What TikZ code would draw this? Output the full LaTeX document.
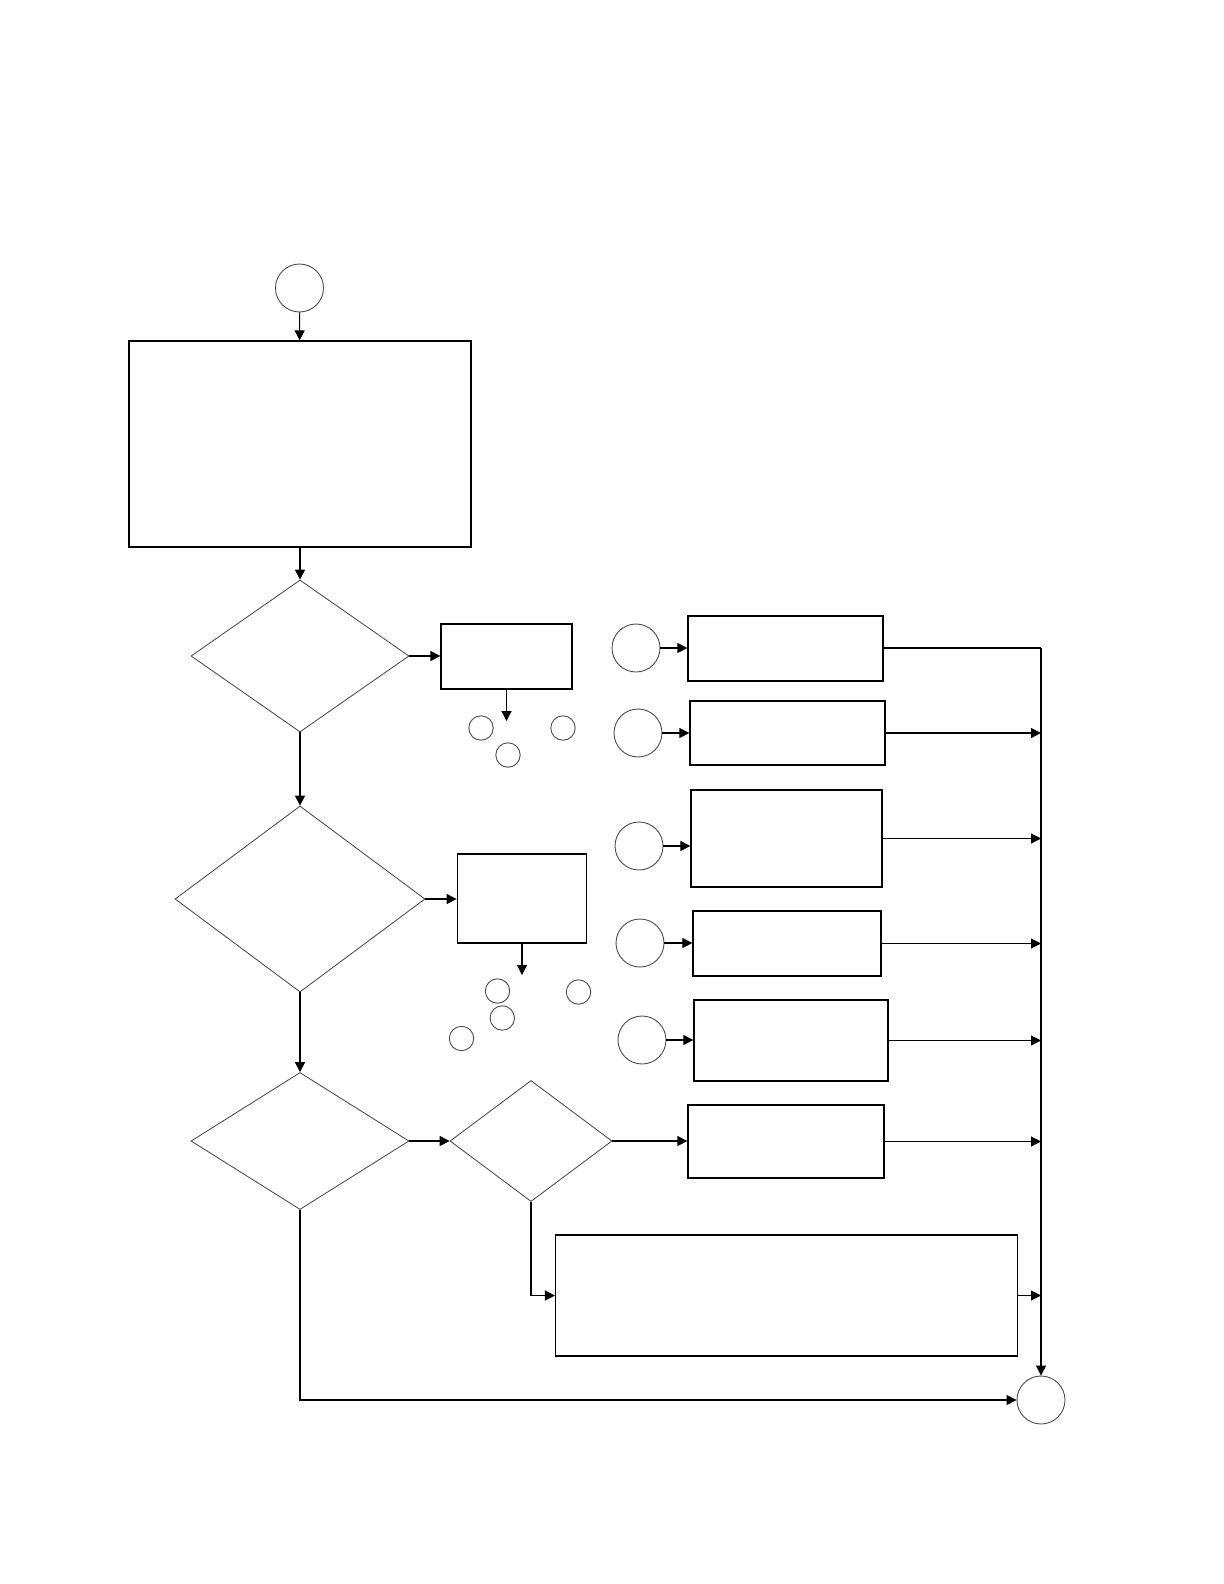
\documentclass[tikz,border=0pt]{standalone}
\usetikzlibrary{shapes.geometric,arrows.meta}
\begin{document}
\begin{tikzpicture}[x=0.5pt,y=-0.5pt,
  box/.style={draw=black,line width=0.65pt,rectangle,inner sep=0pt},
  dia/.style={draw=black!75,line width=0.4pt,diamond,inner sep=0pt},
  circ/.style={draw=black!70,line width=0.45pt,circle,inner sep=0pt,minimum size=24pt},
  smallcirc/.style={draw=black!70,line width=0.45pt,circle,inner sep=0pt,minimum size=12.2pt},
  conn/.style={draw=black,line width=0.55pt},
  arr/.style={conn,-{Triangle[length=5pt,width=5pt]}}]
\useasboundingbox (0,0) rectangle (1224,1584);
% left column
\node[circ] (start) at (299.5,288) {};
\node[box,minimum width=171pt,minimum height=103pt] (main) at (300,444) {};
\node[dia,minimum width=109pt,minimum height=76pt] (d1) at (300,656) {};
\node[dia,minimum width=125pt,minimum height=93pt] (d2) at (300,899) {};
\node[dia,minimum width=109pt,minimum height=68.5pt] (d3) at (300,1141) {};
\node[dia,minimum width=81pt,minimum height=60.5pt] (d4) at (531,1141) {};
% middle boxes
\node[box,minimum width=65.5pt,minimum height=32.5pt] (boxa) at (506.5,656.5) {};
\node[box,minimum width=64.75pt,minimum height=44.5pt] (boxb) at (522,898.5) {};
\coordinate (atip) at (506.5,721);
\coordinate (btip) at (522,975);
% small circles
\node[smallcirc] (a1) at (481,728) {};
\node[smallcirc] (a2) at (563,728) {};
\node[smallcirc] (a3) at (508,755) {};
\node[smallcirc] (b1) at (497.5,991) {};
\node[smallcirc] (b2) at (578.5,992) {};
\node[smallcirc] (b3) at (502.3,1018) {};
\node[smallcirc] (b4) at (461.5,1038.5) {};
% right column circles
\node[circ] (c1) at (636,648) {};
\node[circ] (c2) at (638,733) {};
\node[circ] (c3) at (639,846) {};
\node[circ] (c4) at (640,943) {};
\node[circ] (c5) at (642,1040) {};
% right column boxes
\node[box,minimum width=97.5pt,minimum height=32.5pt] (r1) at (785.5,648.5) {};
\node[box,minimum width=97.5pt,minimum height=32pt] (r2) at (787.5,733) {};
\node[box,minimum width=95.5pt,minimum height=48.5pt] (r3) at (786.5,838.5) {};
\node[box,minimum width=94pt,minimum height=32.5pt] (r4) at (787,943.5) {};
\node[box,minimum width=97pt,minimum height=40.5pt] (r5) at (791,1040.5) {};
\node[box,minimum width=98pt,minimum height=36.5pt] (r6) at (786,1141.5) {};
\node[box,minimum width=231pt,minimum height=60.5pt] (big) at (786.6,1295.5) {};
\node[circ] (end) at (1041,1400) {};
\coordinate (rail) at (1041,648);
% connectors
\draw[arr] (start) -- (main);
\draw[arr] (main) -- (d1);
\draw[arr] (d1) -- (d2);
\draw[arr] (d2) -- (d3);
\draw[arr] (d1.east) -- (boxa.west |- d1.east);
\draw[arr] (boxa.south) -- (atip);
\draw[arr] (d2.east) -- (boxb.west |- d2.east);
\draw[arr] (boxb.south) -- (btip);
\draw[arr] (d3.east) -- (d4.west);
\draw[arr] (d4.east) -- (r6.west |- d4.east);
\draw[arr] (d4.south) |- (big.west);
\draw[arr] (d3.south) |- (end.west);
\draw[arr] (c1.east) -- (r1.west |- c1.east);
\draw[arr] (c2.east) -- (r2.west |- c2.east);
\draw[arr] (c3.east) -- (r3.west |- c3.east);
\draw[arr] (c4.east) -- (r4.west |- c4.east);
\draw[arr] (c5.east) -- (r5.west |- c5.east);
\draw[conn] (r1.east |- rail) -- (rail);
\draw[arr] (rail) -- (end.north);
\draw[arr] (r2.east) -- (r2.east -| rail);
\draw[arr] (r3.east) -- (r3.east -| rail);
\draw[arr] (r4.east) -- (r4.east -| rail);
\draw[arr] (r5.east) -- (r5.east -| rail);
\draw[arr] (r6.east) -- (r6.east -| rail);
\draw[arr] (big.east) -- (big.east -| rail);
\end{tikzpicture}
\end{document}
